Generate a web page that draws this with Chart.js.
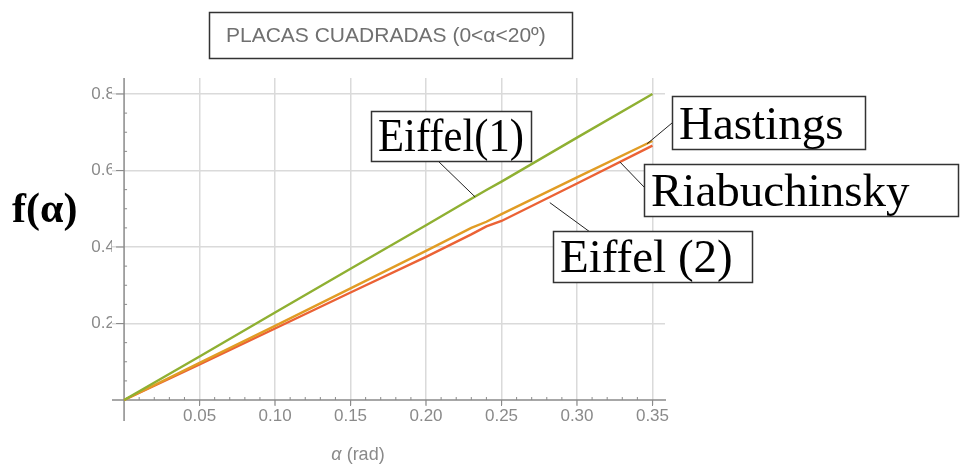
<!DOCTYPE html>
<html>
<head>
<meta charset="utf-8">
<script src="https://cdn.jsdelivr.net/npm/chart.js@4/dist/chart.umd.min.js"></script>
<style>
  html, body { margin: 0; padding: 0; background: #ffffff; }
  #wrap { width: 965px; height: 466px; position: relative; }
</style>
</head>
<body>
<div id="wrap"><canvas id="c" width="965" height="466"></canvas></div>
<script>
// ---- data ----
const alpha      = [0, 0.05, 0.10, 0.15, 0.20, 0.23, 0.24, 0.25, 0.30, 0.35];
const eiffel1    = [0, 0.114, 0.229, 0.343, 0.457, 0.526, 0.549, 0.571, 0.686, 0.800];
const hastings   = [0, 0.097, 0.194, 0.292, 0.390, 0.450, 0.466, 0.486, 0.582, 0.677];
const riabuch    = [0, 0.093, 0.187, 0.281, 0.374, 0.433, 0.454, 0.468, 0.566, 0.665];
const xTicks     = [0.05, 0.10, 0.15, 0.20, 0.25, 0.30, 0.35];
const yTicks     = [0.2, 0.4, 0.6, 0.8];
const title      = 'PLACAS CUADRADAS (0<\u03B1<20\u00BA)';
const xTitle     = '(rad)';
const yTitle     = 'f(\u03B1)';
const seriesNames = ['Eiffel(1)', 'Hastings', 'Riabuchinsky'];

const pts = vals => alpha.map((a, i) => ({ x: a, y: vals[i] }));

// annotation labels: text, box, and the data point the leader line touches
const callouts = [
  { text: 'Eiffel(1)',    box: [371, 111, 160, 50], from: [437, 160], to: [0.2325, 0.531] },
  { text: 'Hastings',     box: [672, 96, 193, 53],  from: [672, 123], to: [0.3465, 0.670] },
  { text: 'Riabuchinsky', box: [644, 164, 314, 52], from: [645, 188], to: [0.3285, 0.622] },
  { text: 'Eiffel (2)',   box: [553, 231, 199, 51], from: [590, 232], to: [0.282, 0.516] }
];

const axesPlugin = {
  id: 'crossAxes',
  beforeDatasetsDraw(chart) {
    const { ctx, scales: { x, y } } = chart;
    const x0 = x.getPixelForValue(0), y0 = y.getPixelForValue(0);
    ctx.save();
    ctx.strokeStyle = '#8a8a8a';
    ctx.lineWidth = 1.5;
    ctx.beginPath();
    ctx.moveTo(x0, 78); ctx.lineTo(x0, 421);
    ctx.moveTo(112, y0); ctx.lineTo(666, y0);
    ctx.stroke();
    ctx.lineWidth = 1;
    ctx.beginPath();
    for (const v of yTicks) { const p = y.getPixelForValue(v); ctx.moveTo(x0 - 8, p); ctx.lineTo(x0, p); }
    for (let k = 1; k <= 16; k++) {
      if (k % 4 === 0) continue;
      const p = y.getPixelForValue(k * 0.05); ctx.moveTo(x0, p); ctx.lineTo(x0 + 3, p);
    }
    for (const v of xTicks) { const p = x.getPixelForValue(v); ctx.moveTo(p, y0); ctx.lineTo(p, y0 + 6); }
    for (let k = 1; k <= 35; k++) {
      if (k % 5 === 0) continue;
      const p = x.getPixelForValue(k * 0.01); ctx.moveTo(p, y0); ctx.lineTo(p, y0 - 3);
    }
    ctx.stroke();
    ctx.restore();
  },
  afterDraw(chart) {
    const { ctx, scales: { x, y } } = chart;
    ctx.save();
    // title box
    ctx.strokeStyle = '#333';
    ctx.lineWidth = 1.5;
    ctx.strokeRect(209.5, 12.5, 363, 46);
    ctx.fillStyle = '#707070';
    ctx.font = '21px "Liberation Sans", Arial, sans-serif';
    ctx.textBaseline = 'alphabetic';
    ctx.textAlign = 'left';
    ctx.fillText(title, 226, 42, 326);
    // x axis title: italic alpha + (rad)
    ctx.fillStyle = '#8a8a8a';
    ctx.textBaseline = 'middle';
    ctx.font = 'italic 18px "Liberation Sans", Arial, sans-serif';
    const aw = ctx.measureText('\u03B1').width;
    ctx.font = '18px "Liberation Sans", Arial, sans-serif';
    const rw = ctx.measureText(' ' + xTitle).width;
    const sx = 358 - (aw + rw) / 2;
    ctx.font = 'italic 18px "Liberation Sans", Arial, sans-serif';
    ctx.fillText('\u03B1', sx, 455);
    ctx.font = '18px "Liberation Sans", Arial, sans-serif';
    ctx.fillText(' ' + xTitle, sx + aw, 455);
    // y axis title
    ctx.fillStyle = '#000';
    ctx.font = 'bold 42px "Liberation Serif", "Times New Roman", serif';
    ctx.textBaseline = 'alphabetic';
    ctx.fillText(yTitle, 12, 222, 70);
    // callouts
    for (const c of callouts) {
      const tx = x.getPixelForValue(c.to[0]), ty = y.getPixelForValue(c.to[1]);
      ctx.strokeStyle = '#222';
      ctx.lineWidth = 1;
      ctx.beginPath(); ctx.moveTo(c.from[0], c.from[1]); ctx.lineTo(tx, ty); ctx.stroke();
      const [bx, by, bw, bh] = c.box;
      ctx.fillStyle = '#fff';
      ctx.fillRect(bx, by, bw, bh);
      ctx.strokeStyle = '#333';
      ctx.lineWidth = 1.5;
      ctx.strokeRect(bx + 0.5, by + 0.5, bw, bh);
      ctx.fillStyle = '#000';
      ctx.font = '47px "Liberation Serif", "Times New Roman", serif';
      ctx.fillText(c.text, bx + 7, by + bh - 10, bw - 14);
    }
    ctx.restore();
  }
};

new Chart(document.getElementById('c'), {
  type: 'scatter',
  data: {
    datasets: [
      { label: seriesNames[0], data: pts(eiffel1),  borderColor: '#8FB032', backgroundColor: '#8FB032' },
      { label: seriesNames[1], data: pts(hastings), borderColor: '#E19C24', backgroundColor: '#E19C24' },
      { label: seriesNames[2], data: pts(riabuch),  borderColor: '#EB6235', backgroundColor: '#EB6235' }
    ].map(d => Object.assign(d, { showLine: true, pointRadius: 0, borderWidth: 2.4, tension: 0 }))
  },
  options: {
    responsive: false,
    animation: false,
    events: [],
    layout: { padding: { top: 78, right: 300, left: 0, bottom: 0 } },
    plugins: { legend: { display: false }, tooltip: { enabled: false } },
    scales: {
      x: {
        type: 'linear', min: -0.008, max: 0.3583,
        afterBuildTicks: s => { s.ticks = xTicks.map(v => ({ value: v })); },
        afterFit: s => { s.height = 61; },
        ticks: {
          callback: v => Number(v).toFixed(2),
          color: '#8a8a8a', font: { size: 17, family: '"Liberation Sans", Arial, sans-serif' },
          padding: 1, maxRotation: 0, autoSkip: false
        },
        grid: { color: '#dadada', lineWidth: 1.5, drawTicks: false },
        border: { display: false }
      },
      y: {
        type: 'linear', min: -0.013, max: 0.8418,
        afterBuildTicks: s => { s.ticks = yTicks.map(v => ({ value: v })); },
        afterFit: s => { s.width = 112; },
        ticks: {
          callback: v => Number(v).toFixed(1),
          color: '#8a8a8a', font: { size: 17, family: '"Liberation Sans", Arial, sans-serif' },
          padding: -3, autoSkip: false
        },
        grid: { color: '#dadada', lineWidth: 1.5, drawTicks: false },
        border: { display: false }
      }
    }
  },
  plugins: [axesPlugin]
});
</script>
</body>
</html>
